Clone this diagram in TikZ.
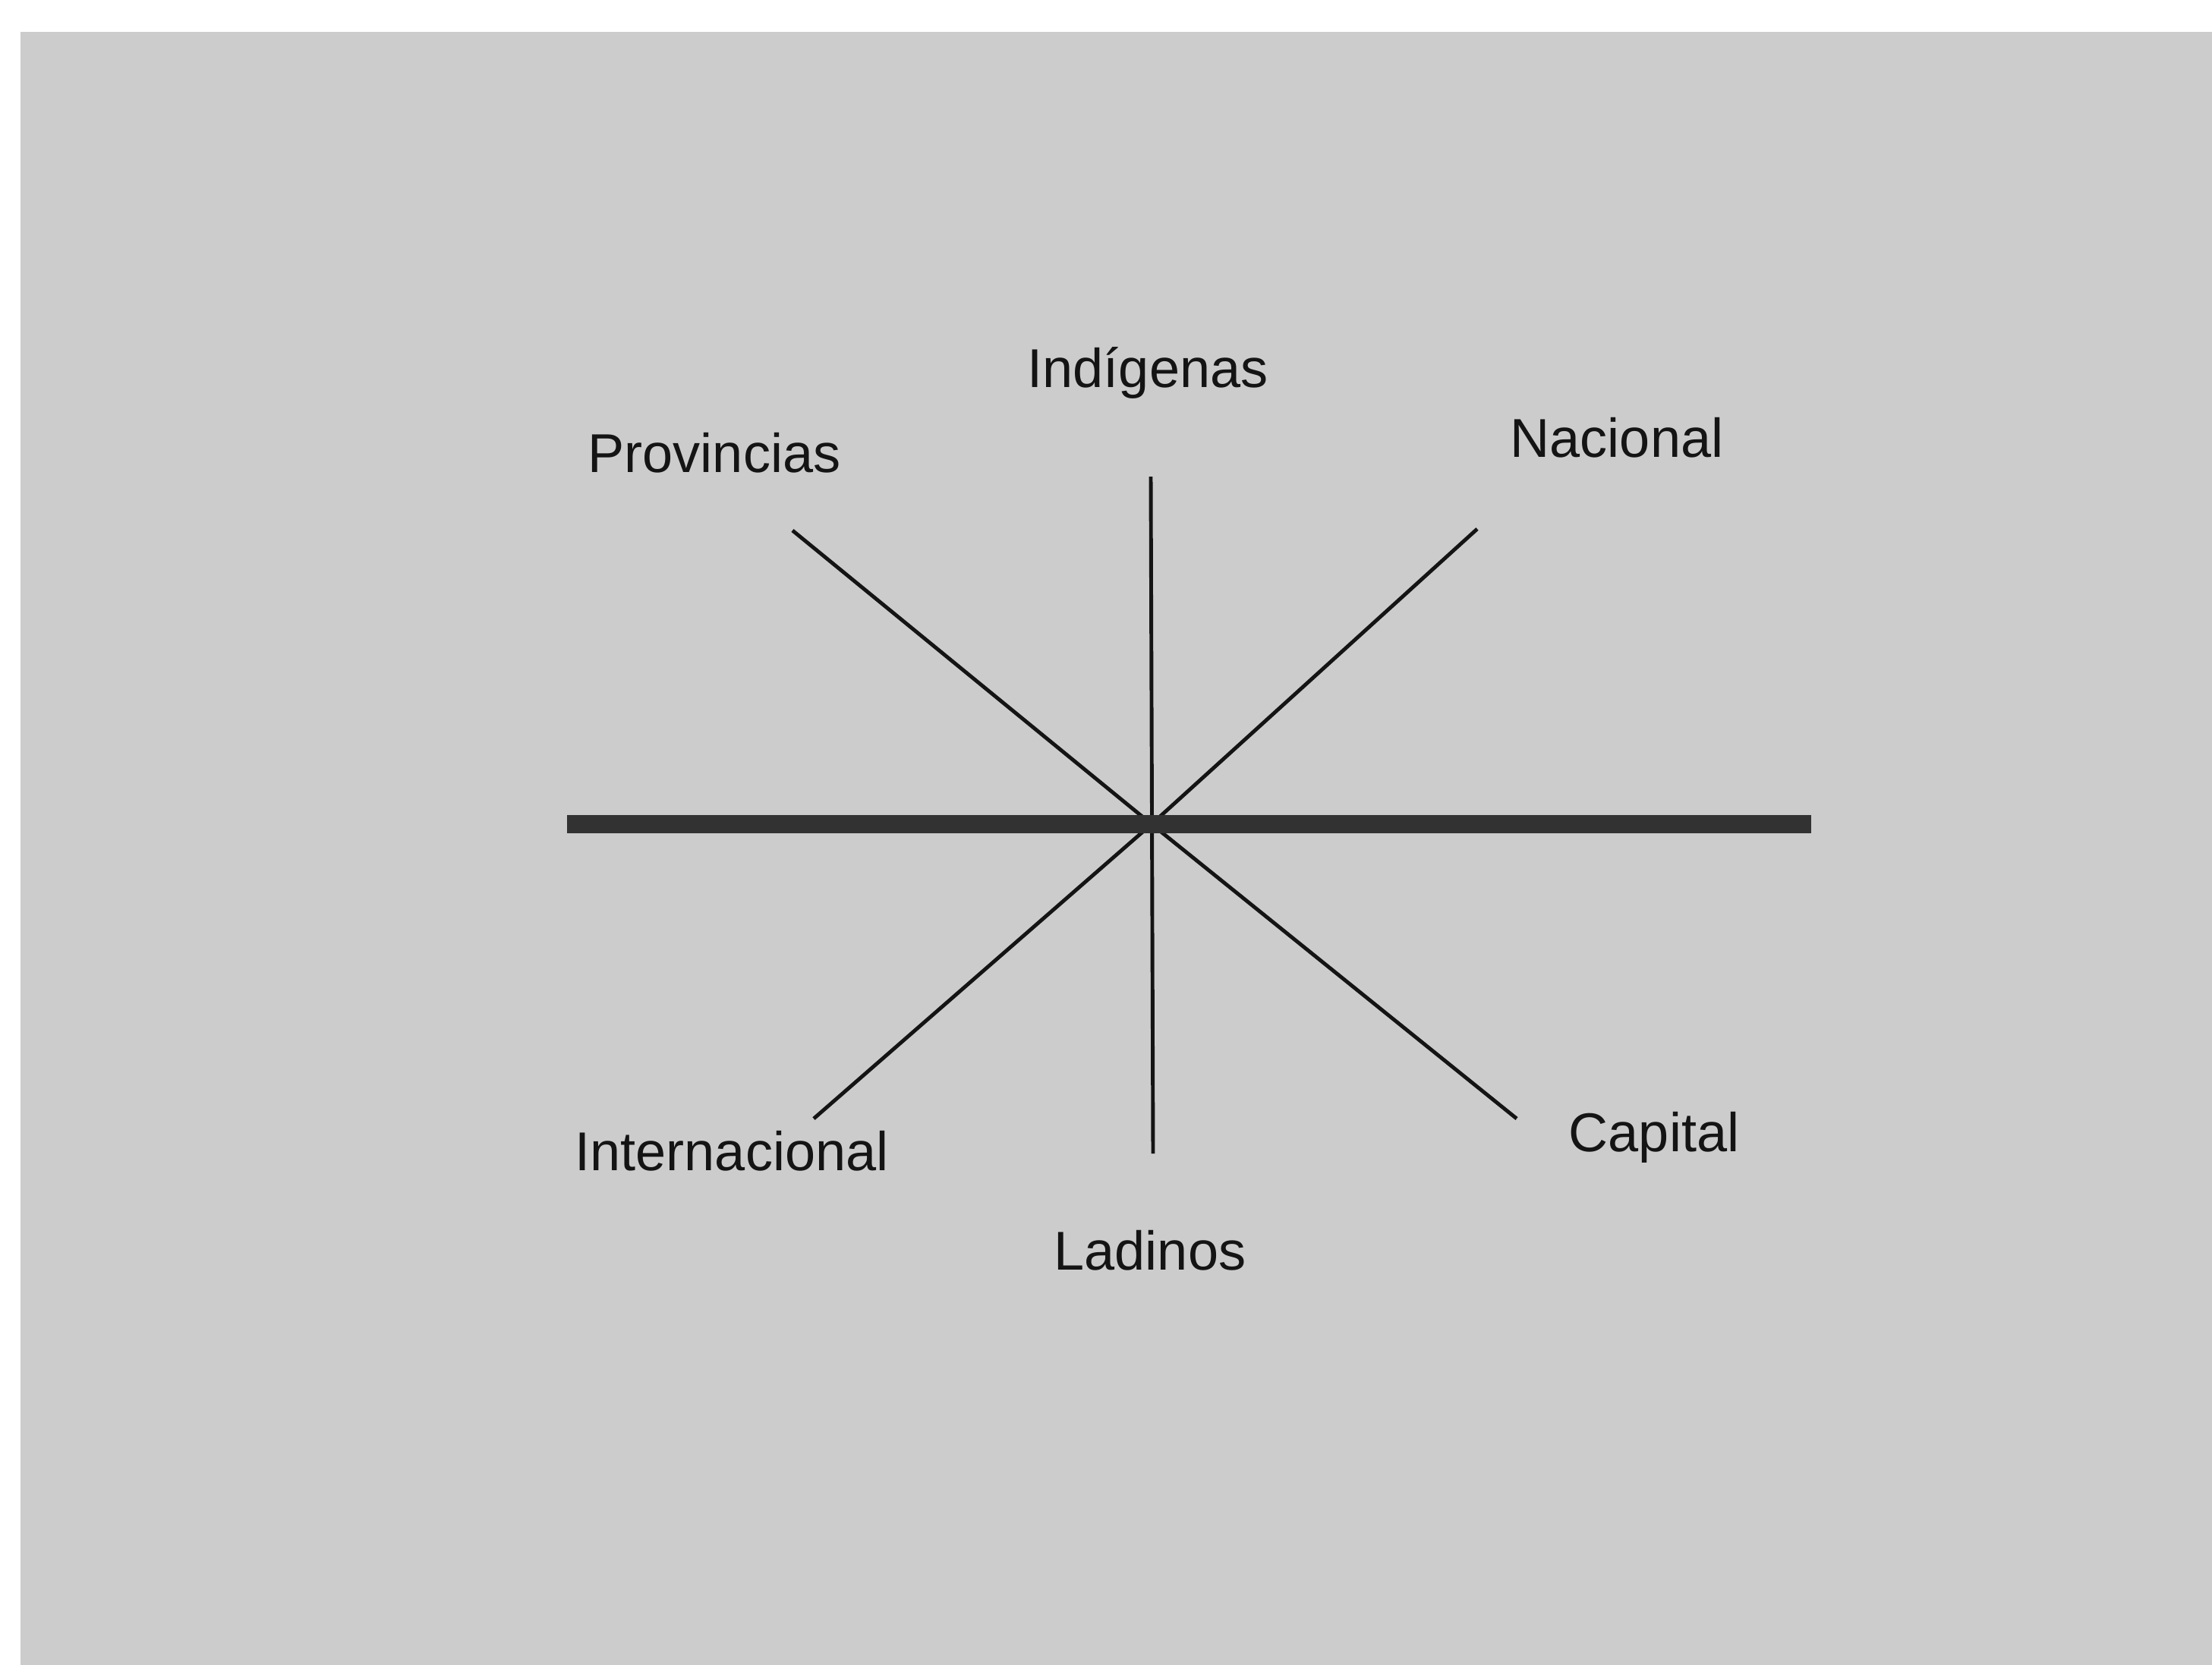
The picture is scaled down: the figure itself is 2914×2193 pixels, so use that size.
\documentclass[tikz,border=0pt]{standalone}
\usepackage{fontspec}
\setmainfont{Liberation Sans}
\definecolor{paper}{RGB}{204,204,204}
\definecolor{bar}{RGB}{50,50,50}
\definecolor{ink}{RGB}{20,20,20}
\begin{document}
\begin{tikzpicture}[x=0.01cm,y=-0.01cm,
  lbl/.style={anchor=base,inner sep=0pt,text=ink,font=\fontsize{20.5}{24}\selectfont},
  spoke/.style={draw=ink,line width=1.4pt},
  axisbar/.style={draw=bar,line width=6.6pt}]
\useasboundingbox (0,0) rectangle (2914,2193);
\fill[white] (0,0) rectangle (2914,2193);
\fill[paper] (27,42) rectangle (2925,2205);
% coordinates
\coordinate (c) at (1517,1086);
\coordinate (barL) at (747,1086);
\coordinate (barR) at (2386,1086);
\coordinate (vT) at (1516,628);
\coordinate (vB) at (1519,1520);
\coordinate (pE) at (1044,699);
\coordinate (nE) at (1946,697);
\coordinate (iE) at (1072,1474);
\coordinate (kE) at (1998,1474);
% spokes
\draw[spoke] (vT) -- (vB);
\draw[spoke] (pE) -- (c) -- (kE);
\draw[spoke] (nE) -- (c) -- (iE);
\draw[axisbar] (barL) -- (barR);
% labels
\node[lbl] (ind) at (1512,510) {Indígenas};
\node[lbl] (prov) at (941,622) {Provincias};
\node[lbl] (nac) at (2130,602) {Nacional};
\node[lbl] (int) at (964,1542) {Internacional};
\node[lbl] (cap) at (2179,1517) {Capital};
\node[lbl] (lad) at (1515,1673) {Ladinos};
\end{tikzpicture}
\end{document}
